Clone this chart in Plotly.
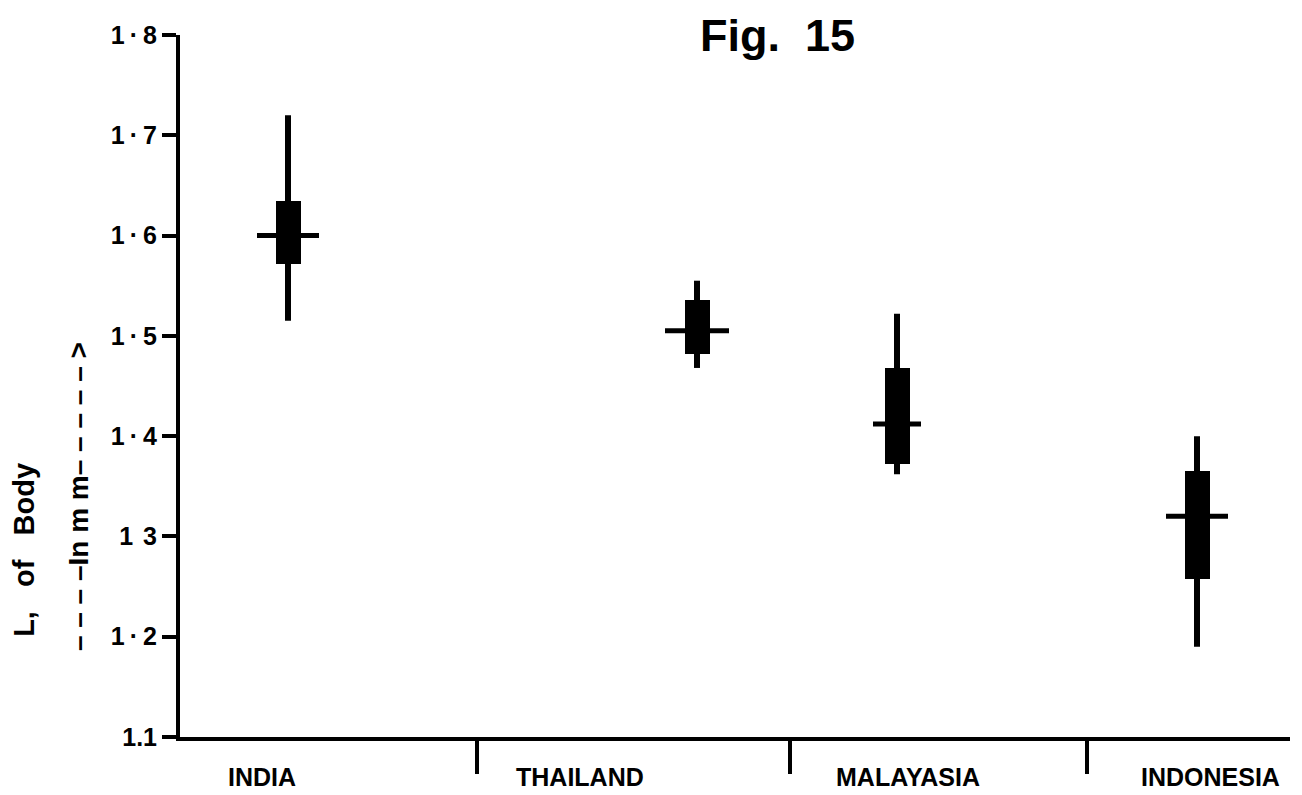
import plotly.graph_objects as go

# Data
countries = ["INDIA", "THAILAND", "MALAYASIA", "INDONESIA"]
x_pos = [1.08, 5.17, 7.17, 10.17]          # horizontal positions of each group
range_min = [1.515, 1.468, 1.362, 1.190]
range_max = [1.720, 1.555, 1.522, 1.400]
box_low = [1.572, 1.482, 1.372, 1.258]
box_high = [1.634, 1.536, 1.468, 1.365]
means = [1.600, 1.505, 1.412, 1.320]
mean_half = [0.31, 0.32, 0.24, 0.31]
label_x = [0.82, 4.0, 7.28, 10.3]
separators = [2.97, 6.10, 9.07]
y_ticks = [1.1, 1.2, 1.3, 1.4, 1.5, 1.6, 1.7, 1.8]
y_ticktext = ["1.1", "1\u2009·\u20092", "1\u2009\u20093", "1\u2009·\u20094", "1\u2009·\u20095",
              "1\u2009·\u20096", "1\u2009·\u20097", "1\u2009·\u20098"]

FONT = "Liberation Sans, Arial"

fig = go.Figure()

for i, c in enumerate(countries):
    # range line
    fig.add_trace(go.Scatter(x=[x_pos[i], x_pos[i]], y=[range_min[i], range_max[i]],
                             mode="lines", line=dict(color="black", width=6),
                             showlegend=False, hoverinfo="skip"))
    # thick bar
    fig.add_trace(go.Bar(x=[x_pos[i]], y=[box_high[i] - box_low[i]], base=[box_low[i]],
                         width=0.25, marker=dict(color="black", line=dict(width=0)),
                         showlegend=False, hoverinfo="skip"))
    # mean line
    fig.add_trace(go.Scatter(x=[x_pos[i] - mean_half[i], x_pos[i] + mean_half[i]],
                             y=[means[i], means[i]],
                             mode="lines", line=dict(color="black", width=5),
                             showlegend=False, hoverinfo="skip"))

# category labels
for i, c in enumerate(countries):
    fig.add_annotation(x=label_x[i], y=-0.057, xref="x", yref="paper", text=c,
                       showarrow=False, xanchor="center", yanchor="middle",
                       font=dict(family=FONT, size=25, color="black", weight="bold"))

fig.add_annotation(x=0.538, y=1.0, xref="paper", yref="paper", text="Fig.  15",
                   showarrow=False, xanchor="center", yanchor="middle",
                   font=dict(family=FONT, size=45, color="black", weight="bold"))

# y axis title lines
fig.add_annotation(x=-0.14, y=0.266, xref="paper", yref="paper", text="L,   of   Body",
                   textangle=-90, showarrow=False, xanchor="center", yanchor="middle",
                   font=dict(family=FONT, size=29, color="black", weight="bold"))
fig.add_annotation(x=-0.092, y=0.343, xref="paper", yref="paper",
                   text="– – – –In m m– – – – – >",
                   textangle=-90, showarrow=False, xanchor="center", yanchor="middle",
                   font=dict(family=FONT, size=28, color="black", weight="bold"))

fig.update_layout(
    width=1302, height=795,
    margin=dict(l=172, r=20, t=27, b=66),
    paper_bgcolor="white", plot_bgcolor="white",
    bargap=0,
    xaxis=dict(range=[0, 11.1], showgrid=False, zeroline=False,
               showline=True, linecolor="black", linewidth=4,
               tickvals=separators, ticktext=["", "", ""], ticks="outside",
               ticklen=33, tickwidth=4, tickcolor="black"),
    yaxis=dict(range=[1.1, 1.8], showgrid=False, zeroline=False,
               showline=True, linecolor="black", linewidth=4,
               tickvals=y_ticks, ticktext=y_ticktext, ticks="outside",
               ticklen=14, tickwidth=4, tickcolor="black",
               tickfont=dict(family=FONT, size=25, color="black", weight="bold")),
)

fig.write_html("out.html")
